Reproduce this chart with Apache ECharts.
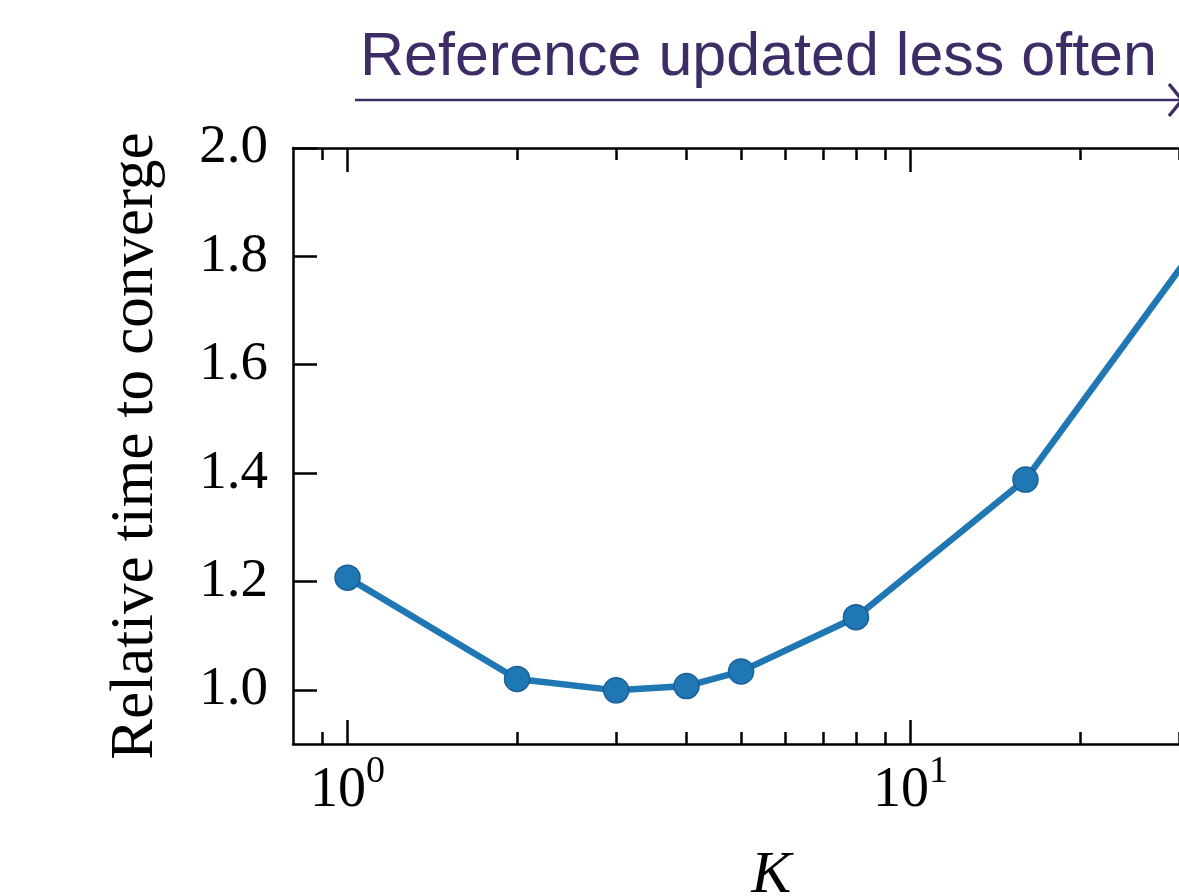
<!DOCTYPE html>
<html><head><meta charset="utf-8">
<script src="https://cdn.jsdelivr.net/npm/echarts@6/dist/echarts.min.js"></script>
<style>html,body{margin:0;padding:0;background:#fff}#c{width:1179px;height:896px}</style>
</head><body><div id="c"></div>
<script>
const kValues = [1, 2, 3, 4, 5, 8, 16, 32];
const relTime = [1.207, 1.020, 0.999, 1.007, 1.034, 1.134, 1.388, 1.815];
const xMajorTicks = [1, 10];
const xMinorTicks = [0.9, 2, 3, 4, 5, 6, 7, 8, 9, 20, 30, 40];
const yTicks = [1.0, 1.2, 1.4, 1.6, 1.8, 2.0];
const titleText = 'Reference updated less often';
const yName = 'Relative time to converge';
const xName = 'K';

const serif = 'Liberation Serif';
const black = '#000';
const purple = '#3d2c66';
const X_MIN = 0.8, X_MAX = 40;

function xAxisBase(pos, ticks, len, showLine, showLabel) {
  return {
    type: 'log', logBase: 10, min: X_MIN, max: X_MAX, position: pos,
    axisLine: { show: showLine, lineStyle: { color: black, width: 2.5 } },
    axisTick: { show: true, inside: true, length: len, customValues: ticks, lineStyle: { color: black, width: 2.5 } },
    axisLabel: showLabel ? {
      show: true, customValues: xMajorTicks, margin: 9,
      formatter: v => '{b|10}{s|' + Math.round(Math.log10(v)) + '}',
      rich: {
        b: { fontFamily: serif, fontSize: 56, color: black, lineHeight: 77, verticalAlign: 'middle' },
        s: { fontFamily: serif, fontSize: 38, color: black, lineHeight: 38, verticalAlign: 'top' }
      }
    } : { show: false },
    splitLine: { show: false }, minorTick: { show: false }
  };
}

const chart = echarts.init(document.getElementById('c'), null, { renderer: 'canvas' });
const xs = [
  xAxisBase('bottom', xMajorTicks, 24, true, true),
  xAxisBase('bottom', xMinorTicks, 12, false, false),
  xAxisBase('top', xMajorTicks, 24, true, false),
  xAxisBase('top', xMinorTicks, 12, false, false)
];
xs[0].name = xName;
xs[0].nameLocation = 'middle';
xs[0].nameGap = 102;
xs[0].nameTextStyle = { fontFamily: serif, fontStyle: 'italic', fontSize: 60, color: black };

chart.setOption({
  animation: false,
  backgroundColor: '#fff',
  grid: { left: 293, top: 148, width: 956.5, height: 596, containLabel: false, outerBoundsMode: 'none' },
  xAxis: xs,
  yAxis: {
    type: 'value', min: 0.9, max: 2.0, position: 'left',
    axisLine: { show: true, lineStyle: { color: black, width: 2.5 } },
    axisTick: { show: true, inside: true, length: 24, customValues: yTicks, lineStyle: { color: black, width: 2.5 } },
    axisLabel: { show: true, customValues: yTicks, margin: 25, formatter: v => Number(v).toFixed(1),
      fontFamily: serif, fontSize: 55, color: black },
    splitLine: { show: false },
    name: yName, nameLocation: 'middle', nameRotate: 90, nameGap: 127,
    nameTextStyle: { fontFamily: serif, fontSize: 61, color: black }
  },
  series: [{
    type: 'line', xAxisIndex: 0, yAxisIndex: 0,
    data: kValues.map((k, i) => [k, relTime[i]]),
    symbol: 'circle', symbolSize: 25,
    lineStyle: { color: '#1f77b4', width: 6.5 },
    itemStyle: { color: '#1f77b4', borderColor: '#1a5f99', borderWidth: 1.5 },
    z: 3
  }],
  graphic: [
    { type: 'text', left: 360, top: 28, style: { text: titleText, font: '61px "Liberation Sans", Arial, sans-serif', fill: purple } },
    { type: 'polyline', shape: { points: [[355, 100], [1181, 100]] }, style: { stroke: purple, lineWidth: 2.5 } },
    { type: 'polyline', shape: { points: [[1169, 84], [1182, 100], [1169, 116]] }, style: { stroke: purple, lineWidth: 3.5, fill: null } }
  ]
});
</script></body></html>
